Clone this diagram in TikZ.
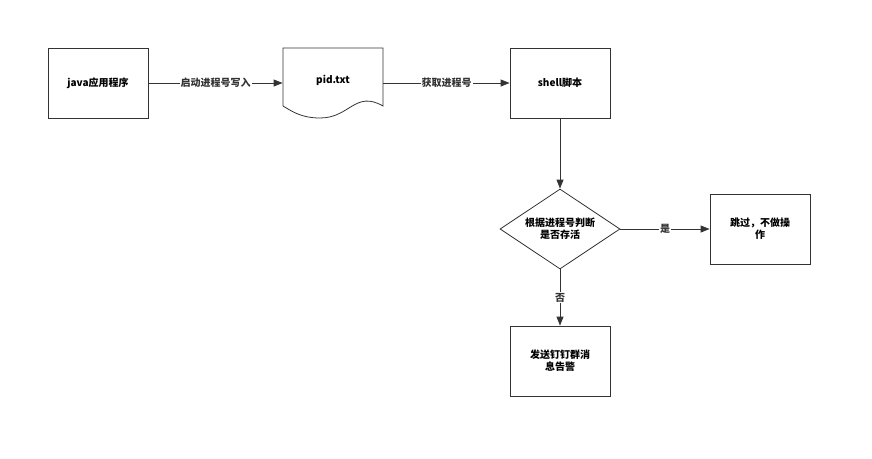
\documentclass[tikz,border=0pt]{standalone}
\usepackage{fontspec}
\setmainfont{Noto Sans CJK SC}
\usetikzlibrary{arrows.meta, positioning, shapes.geometric}
\tikzstyle{box} = [draw=black!80, thick, rectangle, minimum width=100pt, minimum height=70pt, align=center, font=\bfseries\fontsize{10pt}{12pt}\selectfont, text width=88pt]
\tikzstyle{decide} = [draw=black!80, thick, diamond, minimum width=120pt, minimum height=80pt, aspect=1.5, inner sep=0pt, align=center, font=\bfseries\fontsize{10pt}{12pt}\selectfont]
\tikzstyle{tag} = [fill=white, inner sep=1pt, font=\bfseries\fontsize{10pt}{12pt}\selectfont]
\tikzstyle{path} = [-{Triangle[length=9pt, width=7pt]}, thick, black!80]

\begin{document}
\begin{tikzpicture}[x=1pt, y=-1pt]
    \useasboundingbox (0, 0) rectangle (872, 458);

    % Boxes.
    \node (app) [box] at (98, 83) {java应用程序};
    \node (pid) [box, draw=none] at (333, 83) {};
    \node [font=\bfseries\fontsize{10pt}{12pt}\selectfont] at (333, 80) {pid.txt};
    \draw [thick, black!80] (283, 106) -- (283, 48) -- (383, 48) -- (383, 106)
        .. controls (355, 90) and (350, 118) .. (320, 118)
        .. controls (300, 118) and (290, 110) .. (283, 106);
    \node (shell) [box] at (560, 83) {shell脚本};
    \node (alive) [decide] at (560, 229) {根据进程号判断\\是否存活};
    \node (skip) [box] at (760, 229) {跳过，不做操\\作};
    \node (alarm) [box] at (560, 361) {发送钉钉群消\\息告警};

    % Connections.
    \draw [path] (app) -- node [tag] {启动进程号写入} (pid.west);
    \draw [path] (pid.east) -- node [tag] {获取进程号} (shell);
    \draw [path] (shell) -- (alive);
    \draw [path] (alive) -- node [tag] {是} (skip);
    \draw [path] (alive) -- node [tag] {否} (alarm);
\end{tikzpicture}
\end{document}
